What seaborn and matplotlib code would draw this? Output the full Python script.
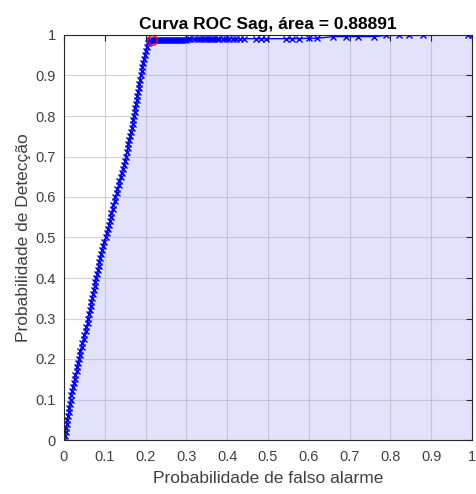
import matplotlib
matplotlib.use("Agg")
import matplotlib.pyplot as plt
import seaborn as sns
import numpy as np
import pandas as pd

title = "Curva ROC Sag, área = 0.88891"
xlabel = "Probabilidade de falso alarme"
ylabel = "Probabilidade de Detecção"
tick_values = [0, 0.1, 0.2, 0.3, 0.4, 0.5, 0.6, 0.7, 0.8, 0.9, 1]
tick_labels = ["0", "0.1", "0.2", "0.3", "0.4", "0.5", "0.6", "0.7", "0.8", "0.9", "1"]

fpr = [0.000, 0.002, 0.004, 0.005, 0.007, 0.008, 0.010, 0.012, 0.013, 0.015, 0.016,
       0.018, 0.020, 0.022, 0.024, 0.026, 0.028, 0.031, 0.033, 0.035, 0.037, 0.039,
       0.040, 0.043, 0.045, 0.048, 0.050, 0.053, 0.055, 0.058, 0.060, 0.062, 0.063,
       0.065, 0.067, 0.069, 0.071, 0.073, 0.075, 0.077, 0.079, 0.081, 0.083, 0.085,
       0.087, 0.089, 0.091, 0.093, 0.096, 0.099, 0.102, 0.105, 0.107, 0.110, 0.112,
       0.114, 0.116, 0.119, 0.121, 0.124, 0.126, 0.129, 0.131, 0.134, 0.136, 0.139,
       0.141, 0.144, 0.147, 0.150, 0.152, 0.154, 0.156, 0.158, 0.160, 0.162, 0.164,
       0.166, 0.168, 0.170, 0.171, 0.173, 0.175, 0.177, 0.178, 0.180, 0.182, 0.184,
       0.185, 0.187, 0.188, 0.190, 0.192, 0.194, 0.196, 0.198, 0.200, 0.203, 0.205,
       0.208, 0.210, 0.214, 0.218, 0.222, 0.226, 0.230, 0.234, 0.238, 0.242, 0.246,
       0.250, 0.254, 0.258, 0.262, 0.266, 0.270, 0.274, 0.278, 0.282, 0.286, 0.290,
       0.295, 0.300, 0.305, 0.310, 0.318, 0.325, 0.333, 0.340, 0.345, 0.350, 0.357,
       0.362, 0.368, 0.375, 0.381, 0.390, 0.398, 0.405, 0.414, 0.422, 0.432, 0.440,
       0.470, 0.483, 0.496, 0.545, 0.560, 0.575, 0.600, 0.620, 0.660, 0.690, 0.720,
       0.760, 0.790, 0.820, 0.845, 0.880, 0.990, 1.000]
tpr = [0.000, 0.010, 0.020, 0.030, 0.040, 0.050, 0.060, 0.070, 0.080, 0.090, 0.100,
       0.110, 0.120, 0.130, 0.140, 0.150, 0.160, 0.170, 0.180, 0.190, 0.200, 0.210,
       0.220, 0.230, 0.240, 0.250, 0.260, 0.270, 0.280, 0.290, 0.300, 0.310, 0.320,
       0.330, 0.340, 0.350, 0.360, 0.370, 0.380, 0.390, 0.400, 0.410, 0.420, 0.430,
       0.440, 0.450, 0.460, 0.470, 0.480, 0.490, 0.500, 0.510, 0.520, 0.530, 0.540,
       0.550, 0.560, 0.570, 0.580, 0.590, 0.600, 0.610, 0.620, 0.630, 0.640, 0.650,
       0.660, 0.670, 0.680, 0.690, 0.700, 0.710, 0.720, 0.730, 0.740, 0.750, 0.760,
       0.770, 0.780, 0.790, 0.800, 0.810, 0.820, 0.830, 0.840, 0.850, 0.860, 0.870,
       0.880, 0.890, 0.900, 0.910, 0.920, 0.930, 0.940, 0.950, 0.960, 0.970, 0.980,
       0.985, 0.988, 0.988, 0.988, 0.988, 0.988, 0.988, 0.988, 0.988, 0.988, 0.988,
       0.988, 0.988, 0.988, 0.988, 0.988, 0.988, 0.988, 0.988, 0.988, 0.988, 0.988,
       0.988, 0.988, 0.989, 0.989, 0.990, 0.990, 0.991, 0.991, 0.991, 0.991, 0.991,
       0.991, 0.991, 0.991, 0.991, 0.991, 0.991, 0.991, 0.991, 0.991, 0.991, 0.991,
       0.991, 0.991, 0.991, 0.991, 0.991, 0.991, 0.992, 0.992, 0.996, 0.996, 0.996,
       0.996, 0.999, 0.999, 0.999, 0.999, 1.000, 1.000]
op_fpr = [0.215]
op_tpr = [0.988]

df = pd.DataFrame({"fpr": fpr, "tpr": tpr})

sns.set_theme(style="white")
plt.rcParams["font.family"] = ["Liberation Sans", "DejaVu Sans"]

fig = plt.figure(figsize=(4.77, 4.94), dpi=100)
ax = fig.add_axes([64 / 477, 1 - 440 / 494, 408 / 477, 405 / 494])

ax.fill_between(df["fpr"], df["tpr"], 0, color="#e2e2fd", zorder=1, linewidth=0)
sns.lineplot(data=df, x="fpr", y="tpr", sort=False, ax=ax, color="#0000ff",
             linewidth=1.0, marker="x", markersize=5, markeredgewidth=1.0,
             markeredgecolor="#0000ff", zorder=3)
ax.plot(op_fpr, op_tpr, marker="o", markersize=7, markerfacecolor="none",
        markeredgecolor="red", markeredgewidth=1.0, linestyle="none", zorder=4)

ax.set_xlim(0, 1)
ax.set_ylim(0, 1)
ax.set_xticks(tick_values)
ax.set_xticklabels(tick_labels)
ax.set_yticks(tick_values)
ax.set_yticklabels(tick_labels)
ax.set_axisbelow(False)
ax.grid(True, color="#a8a8b0", linewidth=0.8, alpha=0.5)
ax.tick_params(direction="in", length=4, width=0.8, colors="#262626",
               labelsize=10.5, top=True, right=True, labelcolor="#404040")
ax.tick_params(axis="x", pad=7)
ax.tick_params(axis="y", pad=6)
for s in ax.spines.values():
    s.set_color("#262626")
    s.set_linewidth(0.8)
    s.set_zorder(5)
ax.set_facecolor("white")
ax.set_xlabel(xlabel, fontsize=12.5, color="#404040", labelpad=5)
ax.set_ylabel(ylabel, fontsize=12.5, color="#404040", labelpad=3)
ax.set_title(title, fontsize=12.5, fontweight="bold", color="black", pad=4)

fig.savefig("out.png", dpi=100)
